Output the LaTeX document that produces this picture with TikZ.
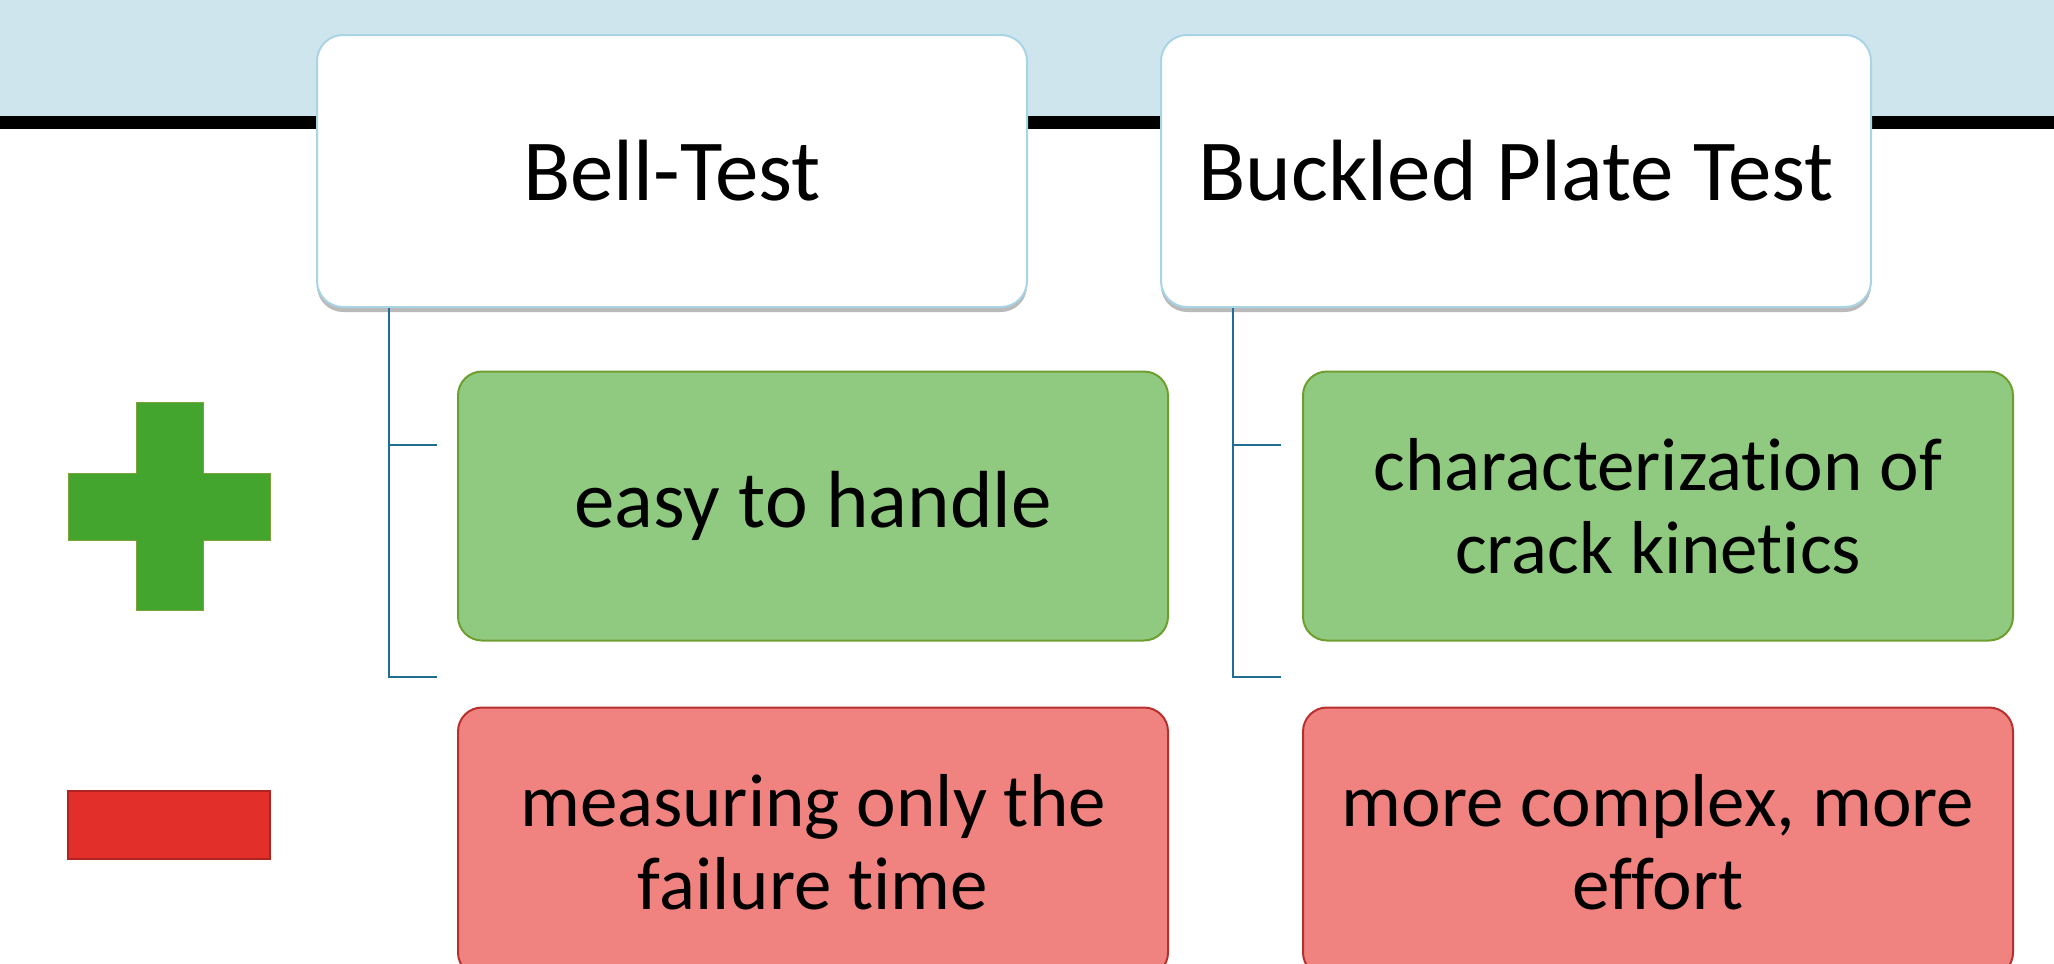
\documentclass[tikz,border=0pt]{standalone}
\usepackage{fontspec}
\setmainfont{Carlito}[Ligatures=CommonOff]
\usetikzlibrary{shadows}
\definecolor{band}{HTML}{CFE5EE}
\definecolor{conn}{HTML}{1F6F95}
\definecolor{gfill}{HTML}{90CA80}
\definecolor{gdraw}{HTML}{6F9E30}
\definecolor{rfill}{HTML}{F08380}
\definecolor{rdraw}{HTML}{B8302E}
\definecolor{plusc}{HTML}{43A52D}
\definecolor{plusd}{HTML}{7BA33A}
\definecolor{minusc}{HTML}{E32F2A}
\definecolor{minusd}{HTML}{B02420}
\definecolor{hdraw}{HTML}{A8D4E6}
\tikzset{
  headbox/.style={draw=hdraw, line width=2pt, fill=white, rounded corners=26pt,
    minimum width=710pt, minimum height=272pt, inner sep=0pt,
    font=\fontsize{87}{100}\selectfont,
    drop shadow={shadow xshift=0pt, shadow yshift=-5pt, opacity=0.45, fill=black!60}},
  probox/.style={draw=gdraw, line width=2pt, fill=gfill, rounded corners=24pt,
    minimum width=710pt, minimum height=269pt, inner sep=0pt, align=center,
    font=\fontsize{75}{83}\selectfont},
  conbox/.style={draw=rdraw, line width=2pt, fill=rfill, rounded corners=24pt,
    minimum width=710pt, minimum height=269pt, inner sep=0pt, align=center,
    font=\fontsize{75}{83}\selectfont},
  link/.style={draw=conn, line width=2.5pt}
}
\begin{document}
\begin{tikzpicture}[x=1pt,y=-1pt]
\useasboundingbox (0,0) rectangle (2054,964);
\clip (0,0) rectangle (2054,964);
% header band
\fill[band] (0,0) rectangle (2054,116);
\fill[black] (0,116) rectangle (2054,129);
% head nodes
\node[headbox] (bell) at (672,171) {Bell-Test};
\node[headbox] (buck) at (1516,171) {Buckled Plate Test};
% pro / con boxes
\node[probox, font=\fontsize{81}{83}\selectfont] (p1) at (813,506) {easy to handle};
\node[probox] (p2) at (1658,506) {characterization of\\crack kinetics};
\node[conbox] (c1) at (813,842) {measuring only the\\failure time};
\node[conbox] (c2) at (1658,842) {more complex, more\\effort};
% connectors
\coordinate (l1) at (389,677);
\coordinate (l1m) at (389,445);
\coordinate (r1) at (1233,677);
\coordinate (r1m) at (1233,445);
\draw[link] (bell.south -| l1) -- (l1) -- ++(48,0);
\draw[link] (l1m) -- ++(48,0);
\draw[link] (buck.south -| r1) -- (r1) -- ++(48,0);
\draw[link] (r1m) -- ++(48,0);
% plus and minus signs
\draw[draw=plusd, line width=1pt, fill=plusc]
  (136,402) -- (203,402) -- (203,473) -- (270,473) -- (270,540) -- (203,540)
  -- (203,610) -- (136,610) -- (136,540) -- (68,540) -- (68,473) -- (136,473) -- cycle;
\node[draw=minusd, line width=1.5pt, fill=minusc, minimum width=202pt, minimum height=68pt, inner sep=0pt] (minus) at (169,825) {};
\end{tikzpicture}
\end{document}
